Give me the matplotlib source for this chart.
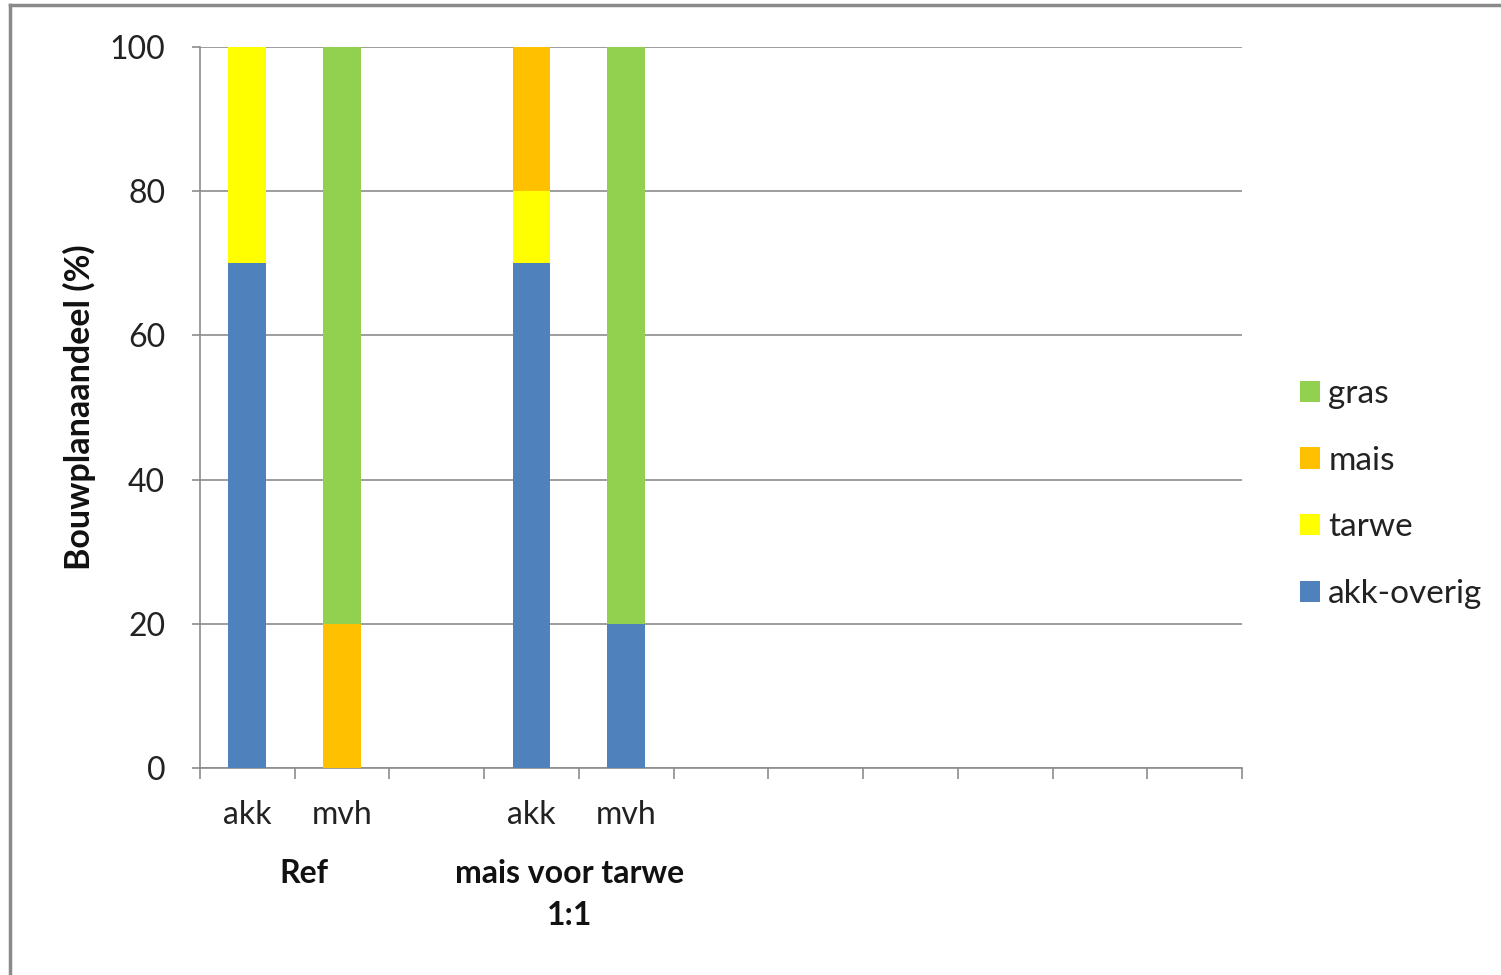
import numpy as np
import matplotlib
matplotlib.use('Agg')
import matplotlib.pyplot as plt
from matplotlib.lines import Line2D

# Bar slots on the category axis (slot 2 stays empty between the groups)
slots = [0, 1, 3, 4]
n_slots = 11
bar_labels = ['akk', 'mvh', 'akk', 'mvh']
groups = ['Ref', 'mais voor tarwe\n1:1']
group_centers = [0.6, 3.4]

# Stacked shares (%) per bar, bottom to top
akk_overig = [70, 0, 70, 20]
tarwe = [30, 0, 10, 0]
mais = [0, 20, 20, 0]
gras = [0, 80, 0, 80]

series = [
    ('akk-overig', akk_overig, '#4F81BD'),
    ('tarwe', tarwe, '#FFFF00'),
    ('mais', mais, '#FFC000'),
    ('gras', gras, '#92D050'),
]

plt.rcParams['font.family'] = ['Lato', 'DejaVu Sans']

fig = plt.figure(figsize=(15.01, 9.75), dpi=100)
ax = fig.add_axes([200 / 1501, 1 - 768 / 975, (1242 - 200) / 1501, (768 - 47) / 975])

bottom = np.zeros(len(slots))
handles = []
for name, vals, color in series:
    b = ax.bar(slots, vals, width=0.4, bottom=bottom, color=color,
               edgecolor='none', zorder=3, label=name)
    bottom += np.array(vals)
    handles.append(b)

ax.set_xlim(-0.5, n_slots - 0.5)
ax.set_ylim(0, 100)
ax.set_yticks([0, 20, 40, 60, 80, 100])
ax.yaxis.grid(True, color='#8c8c8c', linewidth=1.2, zorder=0)
ax.set_axisbelow(True)

grey = '#8c8c8c'
for side in ['top', 'right']:
    ax.spines[side].set_visible(False)
for side in ['left', 'bottom']:
    ax.spines[side].set_color(grey)
    ax.spines[side].set_linewidth(1.2)

ax.tick_params(axis='y', direction='out', length=6, width=1.2, color=grey,
               labelsize=23, pad=19, labelcolor='#222222')

# Category labels without marks; boundary ticks as minor ticks
ax.set_xticks(slots)
ax.set_xticklabels(bar_labels)
ax.tick_params(axis='x', which='major', length=0, labelsize=23, pad=23,
               labelcolor='#222222')
ax.set_xticks(np.arange(-0.5, n_slots, 1.0), minor=True)
ax.tick_params(axis='x', which='minor', direction='out', length=8, width=1.2,
               color=grey)

for g, c in zip(groups, group_centers):
    ax.text(c, -12.6, g, ha='center', va='top', fontsize=23, fontweight='bold',
            color='#111111', linespacing=1.55, transform=ax.transData,
            clip_on=False)

ax.set_ylabel('Bouwplanaandeel (%)', fontsize=24.5, fontweight='bold',
              labelpad=10, color='#111111')

leg = fig.legend(handles=handles[::-1], labels=[s[0] for s in series][::-1],
                 loc='center left', bbox_to_anchor=(1300 / 1501, 1 - 494 / 975),
                 frameon=False, fontsize=24, handlelength=0.6, handleheight=0.6,
                 handletextpad=0.25, labelspacing=1.1, borderpad=0,
                 borderaxespad=0, labelcolor='#222222')

# Outer chart frame on the top and left
fig.add_artist(Line2D([10 / 1501, 10 / 1501], [0, 1 - 5 / 975], color='#8a8a8a',
                      linewidth=2.5, transform=fig.transFigure))
fig.add_artist(Line2D([10 / 1501, 1], [1 - 5 / 975, 1 - 5 / 975], color='#8a8a8a',
                      linewidth=2.5, transform=fig.transFigure))

fig.savefig('out.png', dpi=100)
